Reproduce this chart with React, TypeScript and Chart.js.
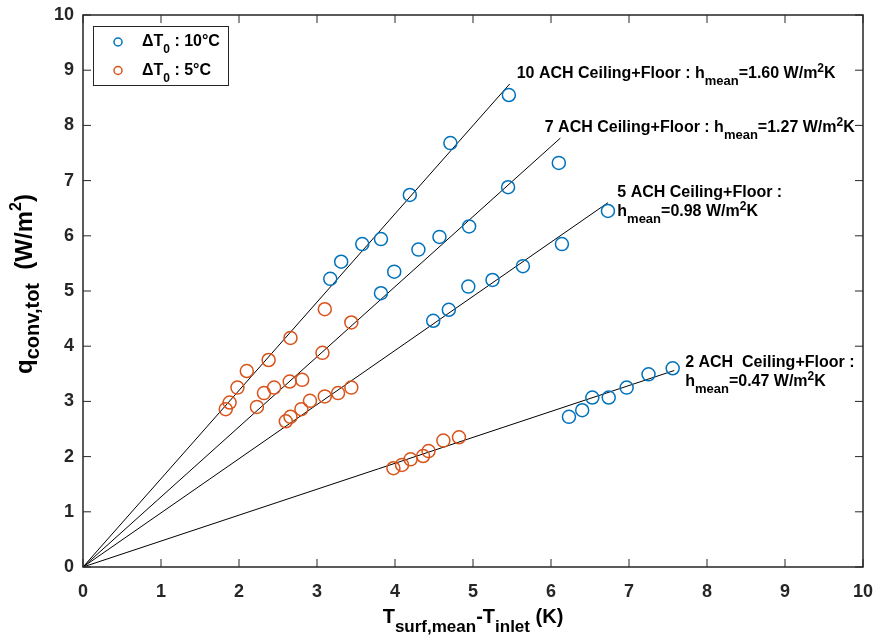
import React, { useEffect, useRef } from "react";
import { Chart, registerables } from "chart.js";

Chart.register(...registerables);

// ---------- data ----------
const blue10X = [3.17, 3.31, 3.58, 3.82, 4.19, 4.71, 5.46];
const blue10Y = [5.22, 5.53, 5.85, 5.94, 6.74, 7.68, 8.55];
const blue7X = [3.82, 3.99, 4.3, 4.57, 4.95, 5.45, 6.1];
const blue7Y = [4.96, 5.35, 5.75, 5.98, 6.17, 6.88, 7.32];
const blue5X = [4.49, 4.69, 4.94, 5.25, 5.64, 6.14, 6.73];
const blue5Y = [4.46, 4.66, 5.08, 5.2, 5.45, 5.85, 6.45];
const blue2X = [6.23, 6.4, 6.53, 6.74, 6.97, 7.25, 7.56];
const blue2Y = [2.72, 2.84, 3.07, 3.07, 3.25, 3.49, 3.6];

const orange10X = [1.83, 1.88, 1.98, 2.1, 2.38, 2.66, 3.1];
const orange10Y = [2.86, 2.98, 3.25, 3.55, 3.75, 4.15, 4.67];
const orange7X = [2.23, 2.32, 2.45, 2.65, 2.81, 3.07, 3.44];
const orange7Y = [2.9, 3.15, 3.25, 3.36, 3.39, 3.88, 4.43];
const orange5X = [2.6, 2.66, 2.8, 2.91, 3.1, 3.27, 3.44];
const orange5Y = [2.64, 2.72, 2.86, 3.01, 3.09, 3.15, 3.25];
const orange2X = [3.98, 4.09, 4.2, 4.36, 4.43, 4.62, 4.82];
const orange2Y = [1.79, 1.85, 1.95, 2.01, 2.1, 2.29, 2.35];

// fit lines from origin: [10 ACH, 7 ACH, 5 ACH, 2 ACH]
const fitStartX = [0, 0, 0, 0];
const fitStartY = [0, 0, 0, 0];
const fitEndX = [5.47, 6.12, 6.73, 7.58];
const fitEndY = [8.75, 7.77, 6.6, 3.56];

const achLabels = ["10", "7", "5", "2"];
const hMean = ["1.60", "1.27", "0.98", "0.47"];

const tickValues = [0, 1, 2, 3, 4, 5, 6, 7, 8, 9, 10];
const legendLabels = ["10\u00B0C", "5\u00B0C"];

const BLUE = "#0072BD";
const ORANGE = "#D95319";
const AXIS = "#262626";
const FONT = "'Liberation Sans', Arial, Helvetica, sans-serif";

type Seg = { t: string; size: number; dy: number };

function zipXY(xs: number[], ys: number[]) {
  return xs.map((x, i) => ({ x, y: ys[i] }));
}

function drawRich(ctx: CanvasRenderingContext2D, segs: Seg[], x: number, y: number, align: "left" | "center") {
  let total = 0;
  const widths: number[] = [];
  for (const s of segs) {
    ctx.font = `bold ${s.size}px ${FONT}`;
    const w = ctx.measureText(s.t).width;
    widths.push(w);
    total += w;
  }
  let cx = align === "center" ? x - total / 2 : x;
  ctx.textAlign = "left";
  ctx.textBaseline = "alphabetic";
  segs.forEach((s, i) => {
    ctx.font = `bold ${s.size}px ${FONT}`;
    ctx.fillText(s.t, cx, y + s.dy);
    cx += widths[i];
  });
}

const annotationSegs = (i: number, split: boolean): Seg[][] => {
  const first: Seg[] = [
    { t: `${achLabels[i]} ACH ${i === 3 ? " " : ""}Ceiling+Floor :${split ? "" : " "}`, size: 16, dy: 0 },
  ];
  const second: Seg[] = [
    { t: "h", size: 16, dy: 0 },
    { t: "mean", size: 13, dy: 7 },
    { t: `=${hMean[i]} W/m`, size: 16, dy: 0 },
    { t: "2", size: 12, dy: -6 },
    { t: "K", size: 16, dy: 0 },
  ];
  return split ? [first, second] : [first.concat(second)];
};

// anchor of each annotation in data units (left edge, baseline)
const annotAnchors = [
  { x: 5.56, y: [8.86], split: false },
  { x: 5.92, y: [7.88], split: false },
  { x: 6.85, y: [6.7, 6.36], split: true },
  { x: 7.72, y: [3.62, 3.28], split: true },
];

const decorPlugin = {
  id: "decor",
  afterDraw(chart: any) {
    const ctx: CanvasRenderingContext2D = chart.ctx;
    const { left, right, top, bottom } = chart.chartArea;
    const xs = chart.scales.x;
    const ys = chart.scales.y;
    ctx.save();

    // box
    ctx.strokeStyle = AXIS;
    ctx.lineWidth = 1.5;
    ctx.strokeRect(left, top, right - left, bottom - top);

    // inward tick marks on all sides
    const tl = 8;
    ctx.lineWidth = 1;
    ctx.beginPath();
    for (const v of tickValues) {
      const px = xs.getPixelForValue(v);
      ctx.moveTo(px, bottom);
      ctx.lineTo(px, bottom - tl);
      ctx.moveTo(px, top);
      ctx.lineTo(px, top + tl);
      const py = ys.getPixelForValue(v);
      ctx.moveTo(left, py);
      ctx.lineTo(left + tl, py);
      ctx.moveTo(right, py);
      ctx.lineTo(right - tl, py);
    }
    ctx.stroke();

    // annotations
    ctx.fillStyle = "#000";
    annotAnchors.forEach((a, i) => {
      const lines = annotationSegs(i, a.split);
      lines.forEach((segs, j) => {
        drawRich(ctx, segs, xs.getPixelForValue(a.x), ys.getPixelForValue(a.y[j]), "left");
      });
    });

    // legend
    const lx = left + 10;
    const ly = top + 11;
    const lw = 135;
    const lh = 59;
    ctx.fillStyle = "#fff";
    ctx.fillRect(lx, ly, lw, lh);
    ctx.strokeStyle = AXIS;
    ctx.lineWidth = 1;
    ctx.strokeRect(lx + 0.5, ly + 0.5, lw, lh);
    const colors = [BLUE, ORANGE];
    legendLabels.forEach((lab, i) => {
      const cy = ly + 16 + i * 28.5;
      ctx.beginPath();
      ctx.arc(lx + 25, cy, 4, 0, Math.PI * 2);
      ctx.strokeStyle = colors[i];
      ctx.lineWidth = 1.5;
      ctx.stroke();
      ctx.fillStyle = "#000";
      drawRich(
        ctx,
        [
          { t: "\u0394T", size: 16, dy: 0 },
          { t: "0", size: 12, dy: 7 },
          { t: ` : ${lab}`, size: 16, dy: 0 },
        ],
        lx + 49,
        cy + 4,
        "left"
      );
    });

    // x-axis title
    ctx.fillStyle = "#000";
    drawRich(
      ctx,
      [
        { t: "T", size: 20, dy: 0 },
        { t: "surf,mean", size: 17, dy: 9 },
        { t: "-T", size: 20, dy: 0 },
        { t: "inlet", size: 17, dy: 9 },
        { t: " (K)", size: 20, dy: 0 },
      ],
      (left + right) / 2,
      bottom + 56,
      "center"
    );

    // y-axis title
    ctx.save();
    ctx.translate(left - 51, 284);
    ctx.rotate(-Math.PI / 2);
    drawRich(
      ctx,
      [
        { t: "q", size: 24, dy: 0 },
        { t: "conv,tot", size: 20, dy: 7 },
        { t: "  (W/m", size: 24, dy: 0 },
        { t: "2", size: 16, dy: -11 },
        { t: ")", size: 24, dy: 0 },
      ],
      0,
      0,
      "center"
    );
    ctx.restore();

    ctx.restore();
  },
};

const zeroPad = (s: any) => {
  s.paddingTop = 0;
  s.paddingBottom = 0;
  s.paddingLeft = 0;
  s.paddingRight = 0;
};

export default function App() {
  const ref = useRef<HTMLCanvasElement | null>(null);

  useEffect(() => {
    document.body.style.margin = "0";
    const canvas = ref.current;
    if (!canvas) return;

    const pointDs = (label: string, data: any[], color: string) => ({
      label,
      data,
      borderColor: color,
      backgroundColor: "rgba(0,0,0,0)",
      pointRadius: 6.5,
      pointHoverRadius: 6.5,
      pointBorderWidth: 1.5,
      showLine: false,
      order: 1,
    });

    const lineDs = fitEndX.map((ex, i) => ({
      label: `${achLabels[i]} ACH fit`,
      data: [
        { x: fitStartX[i], y: fitStartY[i] },
        { x: ex, y: fitEndY[i] },
      ],
      borderColor: "#000",
      borderWidth: 1,
      pointRadius: 0,
      showLine: true,
      order: 2,
    }));

    const blueData = [
      ...zipXY(blue10X, blue10Y),
      ...zipXY(blue7X, blue7Y),
      ...zipXY(blue5X, blue5Y),
      ...zipXY(blue2X, blue2Y),
    ];
    const orangeData = [
      ...zipXY(orange10X, orange10Y),
      ...zipXY(orange7X, orange7Y),
      ...zipXY(orange5X, orange5Y),
      ...zipXY(orange2X, orange2Y),
    ];

    const tickFont = { family: FONT, size: 18, weight: "bold" as const };

    const chart = new Chart(canvas, {
      type: "scatter",
      data: {
        datasets: [
          ...lineDs,
          pointDs("\u0394T0 : 10\u00B0C", blueData, BLUE),
          pointDs("\u0394T0 : 5\u00B0C", orangeData, ORANGE),
        ] as any,
      },
      options: {
        responsive: false,
        animation: false,
        devicePixelRatio: 1,
        layout: { padding: { top: 15, right: 12, left: 0, bottom: 0 } },
        plugins: { legend: { display: false }, tooltip: { enabled: false } },
        scales: {
          x: {
            type: "linear",
            min: 0,
            max: 10,
            afterBuildTicks: (s: any) => {
              s.ticks = tickValues.map((v) => ({ value: v }));
            },
            afterFit: (s: any) => {
              s.height = 72;
              zeroPad(s);
            },
            ticks: { font: tickFont, color: AXIS, padding: 14, maxRotation: 0 },
            grid: { display: false, drawTicks: false, tickLength: 0 },
            border: { display: false },
          },
          y: {
            type: "linear",
            min: 0,
            max: 10,
            afterBuildTicks: (s: any) => {
              s.ticks = tickValues.map((v) => ({ value: v }));
            },
            afterFit: (s: any) => {
              s.width = 83;
              zeroPad(s);
            },
            ticks: { font: tickFont, color: AXIS, padding: 9 },
            grid: { display: false, drawTicks: false, tickLength: 0 },
            border: { display: false },
          },
        },
      },
      plugins: [decorPlugin],
    });

    return () => chart.destroy();
  }, []);

  return (
    <canvas
      ref={ref}
      width={875}
      height={639}
      style={{ display: "block", width: 875, height: 639 }}
    />
  );
}
